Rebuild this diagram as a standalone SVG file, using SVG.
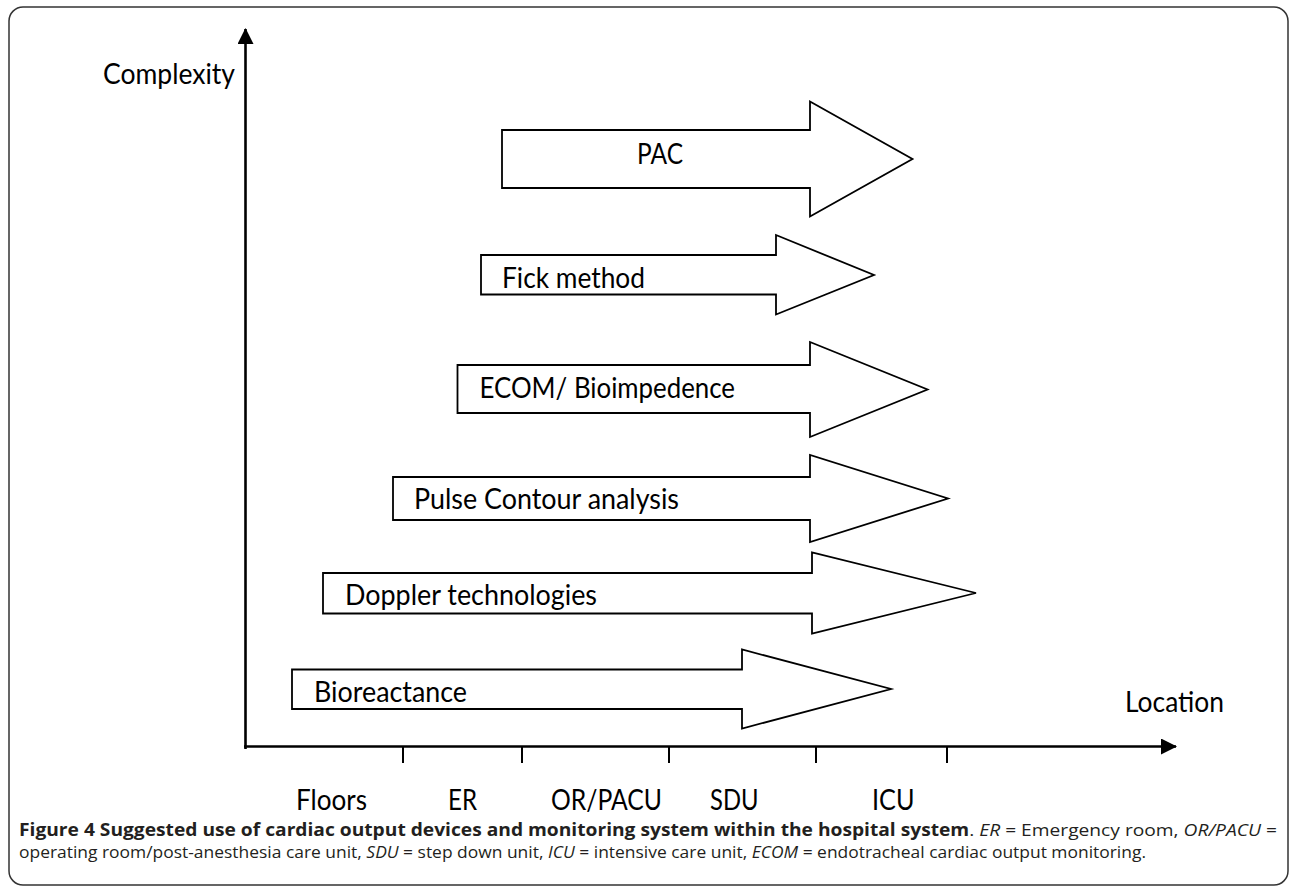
<svg xmlns="http://www.w3.org/2000/svg" width="1290" height="888" viewBox="0 0 1290 888">
<style>
.frame{fill:#fff;stroke:#333;stroke-width:1.5}
.axis{stroke:#000;stroke-width:2.6;fill:none}
.tick{stroke:#000;stroke-width:2;fill:none}
.arr{fill:#fff;stroke:#000;stroke-width:1.8;stroke-linejoin:miter}
.lbl{font-family:Lato,"Liberation Sans",sans-serif;font-size:28px;fill:#000}
.cap{font-family:"Open Sans","Noto Sans",sans-serif;font-size:17px;fill:#231f20}
.b{font-weight:bold}
.i{font-style:italic}
</style>
<defs>
<marker id="ah" viewBox="0 0 16 16" refX="15" refY="8" markerWidth="16" markerHeight="16" markerUnits="userSpaceOnUse" orient="auto">
<path d="M0,0 L16,8 L0,16 Z" fill="#000"/>
</marker>
</defs>
<rect class="frame" x="9" y="7" width="1279" height="878" rx="14" ry="14"/>
<g id="connectors">
<line class="axis" x1="245.5" y1="749" x2="245.5" y2="29" marker-end="url(#ah)"/>
<line class="axis" x1="244" y1="746.5" x2="1176" y2="746.5" marker-end="url(#ah)"/>
<line class="tick" x1="403" y1="746" x2="403" y2="763"/>
<line class="tick" x1="522" y1="746" x2="522" y2="763"/>
<line class="tick" x1="669" y1="746" x2="669" y2="763"/>
<line class="tick" x1="816" y1="746" x2="816" y2="763"/>
<line class="tick" x1="947" y1="746" x2="947" y2="763"/>
</g>
<g id="axis-labels">
<text class="lbl" x="103" y="84" textLength="132" lengthAdjust="spacingAndGlyphs">Complexity</text>
<text class="lbl" x="1125" y="712" textLength="99" lengthAdjust="spacingAndGlyphs">Location</text>
<text class="lbl" x="296" y="810" textLength="71" lengthAdjust="spacingAndGlyphs">Floors</text>
<text class="lbl" x="448" y="810" textLength="29" lengthAdjust="spacingAndGlyphs">ER</text>
<text class="lbl" x="551" y="810" textLength="111" lengthAdjust="spacingAndGlyphs">OR/PACU</text>
<text class="lbl" x="710" y="810" textLength="48.5" lengthAdjust="spacingAndGlyphs">SDU</text>
<text class="lbl" x="872" y="810" textLength="42.5" lengthAdjust="spacingAndGlyphs">ICU</text>
</g>
<g id="pac">
<polygon class="arr" points="502,130 810,130 810,101.5 912.5,159 810,216.5 810,188 502,188"/>
<text class="lbl" x="637" y="164" textLength="46" lengthAdjust="spacingAndGlyphs">PAC</text>
</g>
<g id="fick">
<polygon class="arr" points="481,255 776,255 776,235 874,275 776,314.5 776,294.5 481,294.5"/>
<text class="lbl" x="502" y="288" textLength="143" lengthAdjust="spacingAndGlyphs">Fick method</text>
</g>
<g id="ecom">
<polygon class="arr" points="457.5,365 810,365 810,342 927.5,389.5 810,437 810,413 457.5,413"/>
<text class="lbl" x="479.5" y="398" textLength="255.5" lengthAdjust="spacingAndGlyphs">ECOM/ Bioimpedence</text>
</g>
<g id="pulse">
<polygon class="arr" points="393,477 810,477 810,455 948,498.5 810,542 810,520 393,520"/>
<text class="lbl" x="414" y="509" textLength="265" lengthAdjust="spacingAndGlyphs">Pulse Contour analysis</text>
</g>
<g id="doppler">
<polygon class="arr" points="323,573 812,573 812,552.5 976,593 812,633.5 812,613.5 323,613.5"/>
<text class="lbl" x="345" y="605" textLength="252" lengthAdjust="spacingAndGlyphs">Doppler technologies</text>
</g>
<g id="bioreactance">
<polygon class="arr" points="292,669.5 742,669.5 742,649.5 891,689 742,728.5 742,709 292,709"/>
<text class="lbl" x="314" y="702" textLength="153" lengthAdjust="spacingAndGlyphs">Bioreactance</text>
</g>
<g id="caption">
<text class="cap" x="19" y="836" textLength="1258" lengthAdjust="spacingAndGlyphs"><tspan class="b">Figure 4 Suggested use of cardiac output devices and monitoring system within the hospital system</tspan>. <tspan class="i">ER</tspan> = Emergency room, <tspan class="i">OR/PACU</tspan> =</text>
<text class="cap" x="19" y="858" textLength="1127" lengthAdjust="spacingAndGlyphs">operating room/post-anesthesia care unit, <tspan class="i">SDU</tspan> = step down unit, <tspan class="i">ICU</tspan> = intensive care unit, <tspan class="i">ECOM</tspan> = endotracheal cardiac output monitoring.</text>
</g>
</svg>
